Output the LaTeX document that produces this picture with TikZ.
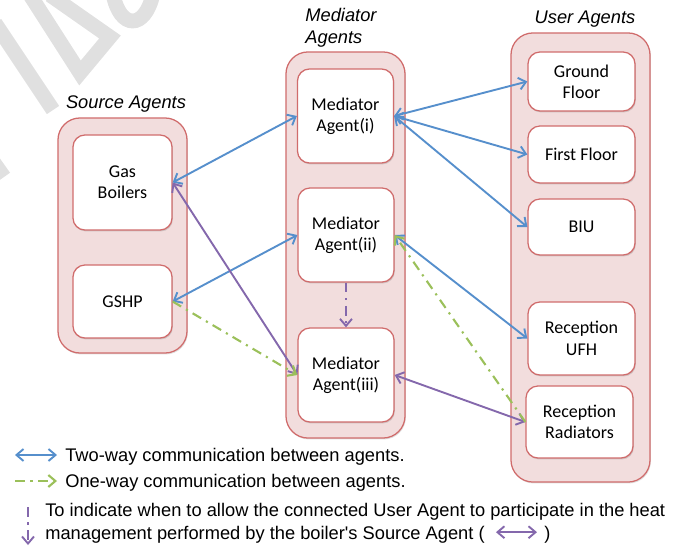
\documentclass[tikz,border=0pt]{standalone}
\usepackage{fontspec}
\setmainfont{Carlito}
\newfontfamily\arialfont{Liberation Sans}
\usepackage{tikz}
\usetikzlibrary{arrows.meta,shadows}
\definecolor{groupfill}{RGB}{242,221,221}
\definecolor{groupline}{RGB}{208,108,108}
\definecolor{twoway}{RGB}{86,143,204}
\definecolor{oneway}{RGB}{155,192,90}
\definecolor{boiler}{RGB}{132,104,172}
\definecolor{wmark}{RGB}{224,224,224}

\tikzset{
  tip/.tip={Straight Barb[length=5pt,width=8.5pt]},
  agentgroup/.style={draw=groupline, fill=groupfill, line width=0.9pt, rounded corners=0.55cm,
    inner sep=0pt, drop shadow={shadow xshift=0.6pt, shadow yshift=-1pt, opacity=0.25}},
  agentbox/.style={draw=groupline, fill=white, line width=0.9pt, rounded corners=0.3cm,
    inner sep=0pt, align=center, font=\fontsize{12.8}{15.2}\selectfont,
    drop shadow={shadow xshift=0.6pt, shadow yshift=-1pt, opacity=0.3}},
  grouplabel/.style={font=\arialfont\itshape\fontsize{13}{15.6}\selectfont, inner sep=0pt},
  legtext/.style={font=\arialfont\fontsize{13}{16}\selectfont, inner sep=0pt},
  twolink/.style={draw=twoway, line width=1.35pt, tip-tip},
  boilerlink/.style={draw=boiler, line width=1.35pt, tip-tip},
  onelink/.style={draw=oneway, line width=1.5pt, dash pattern=on 7pt off 4pt on 1.5pt off 4pt, -tip},
  allowlink/.style={draw=boiler, line width=1.35pt, dash pattern=on 7pt off 4pt on 1.5pt off 4pt, -tip},
}

\begin{document}
\begin{tikzpicture}[x=0.025cm, y=-0.025cm]
   \useasboundingbox (0,0) rectangle (692,546);

   % watermark
   \begin{scope}[draw=wmark, line width=10.5pt, miter limit=20]
      \draw (-5,23) -- (53,110);
      \draw (30,-5) -- (80,73) -- (110,37) -- (50,-5);
      \draw (113,-6) .. controls (120,30) and (145,30) .. (153,-6);
      \draw (-8,160) -- (4,177);
   \end{scope}

   % groups
   \node[agentgroup, minimum width=3.225cm, minimum height=5.875cm] (SG) at (122.5,235.5) {};
   \node[agentgroup, minimum width=2.975cm, minimum height=9.65cm] (MG) at (345.5,245) {};
   \node[agentgroup, minimum width=3.475cm, minimum height=11.225cm] (UG) at (580.5,257.5) {};

   \node[grouplabel] (SL) at (126,104) {Source Agents};
   \node[grouplabel, align=left] (ML) at (341,28) {Mediator\\Agents};
   \node[grouplabel] (UL) at (585,19) {User Agents};

   % source agents
   \node[agentbox, minimum width=2.475cm, minimum height=2.375cm] (gas) at (122.5,182.5) {Gas\\Boilers};
   \node[agentbox, minimum width=2.475cm, minimum height=1.825cm] (gshp) at (122.5,301.5) {GSHP};

   % mediator agents
   \node[agentbox, minimum width=2.4cm, minimum height=2.35cm] (med1) at (345.5,116) {Mediator\\Agent(i)};
   \node[agentbox, minimum width=2.4cm, minimum height=2.35cm] (med2) at (346,235) {Mediator\\Agent(ii)};
   \node[agentbox, minimum width=2.4cm, minimum height=2.35cm] (med3) at (346,375) {Mediator\\Agent(iii)};

   % user agents
   \node[agentbox, minimum width=2.675cm, minimum height=1.475cm] (ground) at (581.5,81.5) {Ground\\Floor};
   \node[agentbox, minimum width=2.675cm, minimum height=1.425cm] (first) at (581.5,154.5) {First Floor};
   \node[agentbox, minimum width=2.675cm, minimum height=1.4cm] (biu) at (581.5,227) {BIU};
   \node[agentbox, minimum width=2.675cm, minimum height=1.825cm] (ufh) at (581.5,338.5) {Reception\\UFH};
   \node[agentbox, minimum width=2.675cm, minimum height=1.8cm] (rad) at (579.5,422) {Reception\\Radiators};

   % links
   \draw[twolink] (gas.east) -- (med1.west);
   \draw[twolink] (gshp.east) -- (med2.west);
   \draw[twolink] (med1.east) -- (ground.west);
   \draw[twolink] (med1.east) -- (first.west);
   \draw[twolink] (med1.east) -- (biu.west);
   \draw[twolink] (med2.east) -- (ufh.west);
   \draw[boilerlink] (gas.east) -- (med3.west);
   \draw[boilerlink] (med3.east) -- (rad.west);
   \draw[onelink] (gshp.east) -- (med3.west);
   \draw[onelink] (rad.west) -- (med2.east);
   \draw[allowlink] (med2.south) -- (med3.north);

   % legend
   \coordinate (twoA) at (15,455);
   \coordinate (twoB) at (57,455);
   \draw[twolink] (twoA) -- (twoB);
   \node[legtext, anchor=base west] (legTwo) at (65,461) {Two-way communication between agents.};

   \coordinate (oneA) at (15,481);
   \coordinate (oneB) at (57,481);
   \draw[onelink] (oneA) -- (oneB);
   \node[legtext, anchor=base west] (legOne) at (65,487) {One-way communication between agents.};

   \coordinate (allowA) at (28,507);
   \coordinate (allowB) at (28,545);
   \draw[allowlink] (allowA) -- (allowB);
   \node[legtext, anchor=base west] (legAllow) at (45,516) {To indicate when to allow the connected User Agent to participate in the heat};
   \node[legtext, anchor=base west] (legMgmt) at (45,539) {management performed by the boiler's Source Agent (};
   \coordinate (boilA) at ([xshift=0.275cm, yshift=0.17cm]legMgmt.base east);
   \coordinate (boilB) at ([xshift=1.3cm, yshift=0.17cm]legMgmt.base east);
   \draw[boilerlink] (boilA) -- (boilB);
   \node[legtext, anchor=base west] (legClose) at ([xshift=1.475cm]legMgmt.base east) {)};
\end{tikzpicture}
\end{document}
